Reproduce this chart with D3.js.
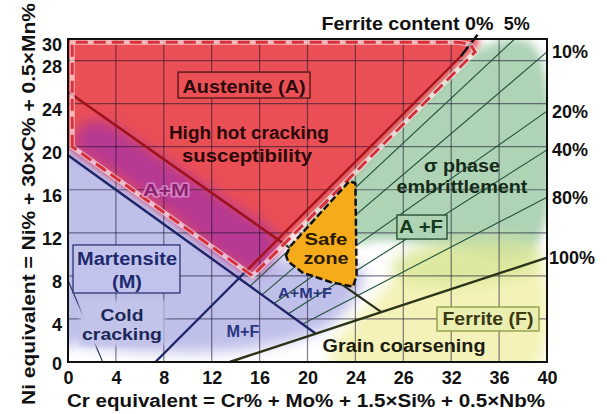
<!DOCTYPE html>
<html>
<head>
<meta charset="utf-8">
<script src="https://cdn.jsdelivr.net/npm/d3@7"></script>
<style>
  html, body { margin: 0; padding: 0; background: #fff; }
  svg { display: block; font-family: "Liberation Sans", Arial, Helvetica, sans-serif; font-weight: bold; }
</style>
</head>
<body>
<svg id="chart" width="607" height="414"></svg>
<script>
// ---- axis ticks ----
const xTickValues = [0, 4, 8, 12, 16, 20, 24, 28, 32, 36, 40];
const xTickLabels = ["0", "4", "8", "12", "16", "20", "24", "26", "32", "36", "40"];
const yTickValues = [0, 4, 8, 12, 16, 20, 24, 28, 30];
const gridX = [4, 8, 12, 16, 20, 24, 28, 32, 36];
const gridY = [4, 8, 12, 16, 20, 24, 28];

// ---- phase boundaries, [Cr eq, Ni eq] ----
const hotCrackLine = [[0, 25.1], [18.04, 10.97], [26.2, 4.6]];
const martensiteLine = [[0, 19.2], [20.7, 2.63]];
const ferrite0Line = [[7.3, 0], [14.86, 8.43], [32.8, 28.4], [34.2, 30.4]];
const ferrite100Line = [[13.5, 0], [40, 9.7]];
const coldCrackLine = [[0, 7.6], [2.9, 0]];

// iso-ferrite lines between 0 % and 100 %
const ferriteLabels = ["5%", "10%", "20%", "40%", "80%"];
const ferriteStarts = [[15.2, 7.04], [16.2, 6.24], [17.2, 5.44], [18.4, 4.48], [19.6, 3.52]];
const ferriteEnds = [[37.3, 30], [40, 28.8], [40, 23.3], [40, 19.7], [40, 15.3]];

// outlined zones
const austeniteZone = [[0.35, 20.0], [0.35, 29.7], [32.6, 29.7], [33.6, 29.5], [34.0, 28.8], [15.4, 8.0]];
const safeZone = [[18.2, 9.9], [18.6, 10.8], [23.5, 16.8], [24.0, 16.6], [24.1, 8.0], [23.8, 7.0], [22.0, 7.4], [19.6, 8.3], [18.4, 9.3]];

// shaded phase fields
const martensiteArea = [[-2, 1.8], [-2, 21], [16, 9.8], [21, 9.6], [24.6, 8.6], [24, 6], [21.5, 3.2], [18, 1.8], [13, 1.0], [6, 1.0], [1, 1.6]];
const ferriteArea = [[22, -1], [38.9, -1], [38.9, 10.6], [33, 10.8], [29, 9.8], [26.8, 7.2], [24.5, 4.5], [22.5, 2.2]];
const ferriteRichBand = [[28, 7.5], [38.9, 8.5], [38.9, 11], [30, 10.8], [27, 9]];
const duplexArea = [[19.6, 12.3], [34.9, 29.4], [38.9, 29.4], [38.9, 10.6], [30, 10.9], [26, 11.3], [24.3, 11]];
const austeniteArea = [[-2, 32], [33.3, 32], [34.4, 29.6], [15.4, 7.9], [-2, 21.5]];
const austMartBand = [[0.6, 19.9], [0.9, 21.6], [2.4, 22.4], [8, 18.8], [14, 14.4], [17.6, 11.4], [17.2, 9.9], [15.5, 8.4], [8, 14.2], [3, 18.2]];

const W = 607, H = 414;
const svg = d3.select("#chart");
const x = d3.scaleLinear().domain([0, 40]).range([68, 547]);
const y = d3.scaleLinear().domain([0, 30]).range([362, 39]);
const open = d3.line().x(d => x(d[0])).y(d => y(d[1]));
const closed = d3.line().x(d => x(d[0])).y(d => y(d[1])).curve(d3.curveLinearClosed);
const blob = d3.line().x(d => x(d[0])).y(d => y(d[1])).curve(d3.curveCatmullRomClosed.alpha(0.5));

const defs = svg.append("defs");
defs.append("clipPath").attr("id", "plot")
  .append("rect").attr("x", x(0)).attr("y", y(30))
  .attr("width", x(40) - x(0)).attr("height", y(0) - y(30));
[2, 3, 5, 7].forEach(s => {
  defs.append("filter").attr("id", "blur" + s)
    .attr("filterUnits", "userSpaceOnUse")
    .attr("x", 0).attr("y", 0).attr("width", W).attr("height", H)
    .append("feGaussianBlur").attr("stdDeviation", s);
});

// ---- soft phase fields ----
const fields = svg.append("g").attr("clip-path", "url(#plot)");
fields.append("path").attr("d", blob(martensiteArea)).attr("fill", "#bfc0ea").attr("filter", "url(#blur7)");
fields.append("path").attr("d", blob(ferriteArea)).attr("fill", "#f4f2b8").attr("filter", "url(#blur7)");
fields.append("path").attr("d", blob(duplexArea)).attr("fill", "#aed3b5").attr("filter", "url(#blur5)");
fields.append("path").attr("d", blob(ferriteRichBand)).attr("fill", "#d8e69a").attr("opacity", 0.8).attr("filter", "url(#blur7)");
fields.append("path").attr("d", closed(austeniteArea)).attr("fill", "#ea5055").attr("filter", "url(#blur3)");
fields.append("path").attr("d", blob(austMartBand)).attr("fill", "#ad359e").attr("opacity", 0.85).attr("filter", "url(#blur7)");

// ---- grid ----
const grid = svg.append("g").attr("stroke", "#1b1430").attr("stroke-opacity", 0.55).attr("stroke-width", 1.2);
gridX.forEach(v => grid.append("line").attr("x1", x(v)).attr("x2", x(v)).attr("y1", y(0)).attr("y2", y(30)));
gridY.forEach(v => grid.append("line").attr("x1", x(0)).attr("x2", x(40)).attr("y1", y(v)).attr("y2", y(v)));

// ---- iso-ferrite lines ----
const thin = svg.append("g").attr("stroke", "#22503a").attr("stroke-width", 1.1).attr("fill", "none");
ferriteStarts.forEach((s, i) => thin.append("path").attr("d", open([s, ferriteEnds[i]])));
svg.append("path").attr("d", open(coldCrackLine)).attr("stroke", "#2a3060").attr("stroke-width", 1.1).attr("fill", "none");

// ---- main boundaries ----
function seg(pts, color, w) {
  svg.append("path").attr("d", open(pts)).attr("fill", "none")
    .attr("stroke", color).attr("stroke-width", w).attr("stroke-linecap", "butt");
}
seg(martensiteLine, "#1c2566", 2.4);
seg(ferrite0Line.slice(0, 2), "#1c2566", 2.4);
seg(ferrite0Line.slice(1, 3), "#a3141d", 2.4);
seg(ferrite0Line.slice(2, 4), "#111", 2.4);
seg(hotCrackLine.slice(0, 2), "#9e121b", 2.6);
seg(hotCrackLine.slice(1, 3), "#283018", 2.2);
seg(ferrite100Line, "#2a3318", 2.4);

// hot-cracking zone outline
svg.append("path").attr("d", closed(austeniteZone)).attr("fill", "none")
  .attr("stroke", "#fff").attr("stroke-opacity", 0.6).attr("stroke-width", 5).attr("stroke-linejoin", "round");
svg.append("path").attr("d", closed(austeniteZone)).attr("fill", "none")
  .attr("stroke", "#d8303b").attr("stroke-width", 3).attr("stroke-dasharray", "12,6");

// safe zone
svg.append("path").attr("d", closed(safeZone)).attr("fill", "#f5ab1a")
  .attr("stroke", "#111").attr("stroke-width", 2.5).attr("stroke-dasharray", "7,3")
  .attr("stroke-linejoin", "round");

// ---- label boxes ----
function box(x0, y0, x1, y1, fill, stroke) {
  return svg.append("rect").attr("x", x(x0)).attr("y", y(y0))
    .attr("width", x(x1) - x(x0)).attr("height", y(y1) - y(y0))
    .attr("fill", fill).attr("stroke", stroke).attr("stroke-width", stroke ? 1.3 : 0);
}
box(9.19, 26.93, 20.21, 24.52, "#ea5055", "#4a1414");
box(27.47, 13.65, 31.65, 11.42, "#aed3b5", "#1f4a2a");
box(0.42, 10.87, 9.35, 6.41, "#c2c3ec", "#2a3470");
box(30.81, 5.11, 39.33, 2.88, "#eaeeb0", "#8a9a40");
box(1.0, 5.76, 8.1, 1.49, "#c3c4ea", null).attr("filter", "url(#blur2)");

// ---- region labels ----
function label(txt, cx, cy, o = {}) {
  const t = svg.append("text").attr("x", x(cx)).attr("y", y(cy))
    .attr("text-anchor", "middle").attr("font-size", o.size || 18)
    .attr("fill", o.color || "#1a1a1a").text(txt);
  if (o.len) t.attr("textLength", o.len).attr("lengthAdjust", "spacingAndGlyphs");
  if (o.halo) t.attr("stroke", o.halo).attr("stroke-width", 3).attr("stroke-opacity", 0.7)
    .attr("paint-order", "stroke").attr("stroke-linejoin", "round");
  return t;
}
label("Austenite (A)", 14.70, 24.98, { len: 123, color: "#2a0a0a" });
label("High hot cracking", 15.11, 20.71, { len: 160, color: "#2a0808" });
label("susceptibility", 14.95, 18.58, { len: 130, color: "#2a0808" });
label("A+M", 8.18, 15.42, { size: 16, len: 46, color: "#8a1f70", halo: "#e6a2d6" });
label("σ phase", 32.90, 17.65, { len: 76, color: "#152a18" });
label("embrittlement", 32.90, 15.70, { len: 131, color: "#152a18" });
label("A +F", 29.48, 11.98, { len: 44, color: "#163a1e" });
label("Safe", 21.54, 10.87, { size: 16, len: 43, color: "#2a1a00" });
label("zone", 21.54, 9.10, { size: 16, len: 45, color: "#2a1a00" });
label("Martensite", 4.93, 9.01, { len: 100, color: "#1e2a6e" });
label("(M)", 4.93, 6.87, { len: 30, color: "#1e2a6e" });
label("Cold", 4.51, 3.80, { size: 17, len: 43, color: "#1c2658" });
label("cracking", 4.51, 2.04, { size: 17, len: 80, color: "#1c2658" });
label("M+F", 14.61, 2.32, { size: 16, len: 33, color: "#2a3580" });
label("A+M+F", 19.79, 5.94, { size: 15, len: 54, color: "#2a3580" });
label("Ferrite (F)", 35.07, 3.44, { len: 91, color: "#3a3a12" });
label("Grain coarsening", 28.06, 0.93, { len: 163, color: "#1c1c10" });

// ---- ferrite content labels ----
svg.append("text").attr("x", x(34.2) + 16).attr("y", 30).attr("text-anchor", "end")
  .attr("font-size", 18).attr("fill", "#111").attr("textLength", 172).attr("lengthAdjust", "spacingAndGlyphs")
  .text("Ferrite content 0%");
svg.append("text").attr("x", x(ferriteEnds[0][0]) + 2).attr("y", 30).attr("text-anchor", "middle")
  .attr("font-size", 18).attr("fill", "#111").text(ferriteLabels[0]);
ferriteEnds.slice(1).forEach((e, i) => {
  svg.append("text").attr("x", x(40) + 5).attr("y", y(e[1])).attr("dy", "0.36em")
    .attr("font-size", 18).attr("fill", "#111").text(ferriteLabels[i + 1]);
});
svg.append("text").attr("x", x(40) + 2).attr("y", y(ferrite100Line[1][1])).attr("dy", "0.36em")
  .attr("font-size", 18).attr("fill", "#111").text("100%");

// ---- frame and axes ----
svg.append("rect").attr("x", x(0)).attr("y", y(30)).attr("width", x(40) - x(0)).attr("height", y(0) - y(30))
  .attr("fill", "none").attr("stroke", "#111").attr("stroke-width", 2);

const gx = svg.append("g").attr("transform", `translate(0,${y(0)})`)
  .call(d3.axisBottom(x).tickValues(xTickValues).tickFormat((d, i) => xTickLabels[i]).tickSize(0).tickPadding(9));
gx.select(".domain").remove();
gx.attr("font-size", 18).attr("font-family", null);
gx.selectAll("text").attr("fill", "#111").attr("font-weight", "bold");

const gy = svg.append("g").attr("transform", `translate(${x(0)},0)`)
  .call(d3.axisLeft(y).tickValues(yTickValues).tickSize(0).tickPadding(6));
gy.select(".domain").remove();
gy.attr("font-size", 18).attr("font-family", null);
gy.selectAll("text").attr("fill", "#111").attr("font-weight", "bold")
  .attr("dy", d => d === 0 ? "0.42em" : "0.66em");

svg.append("text").attr("x", 306).attr("y", 407).attr("text-anchor", "middle")
  .attr("font-size", 18).attr("fill", "#111").attr("textLength", 478).attr("lengthAdjust", "spacingAndGlyphs")
  .text("Cr equivalent = Cr% + Mo% + 1.5×Si% + 0.5×Nb%");
svg.append("text").attr("transform", "translate(35,204) rotate(-90)").attr("text-anchor", "middle")
  .attr("font-size", 18).attr("fill", "#111").attr("textLength", 402).attr("lengthAdjust", "spacingAndGlyphs")
  .text("Ni equivalent = Ni% + 30×C% + 0.5×Mn%");
</script>
</body>
</html>
